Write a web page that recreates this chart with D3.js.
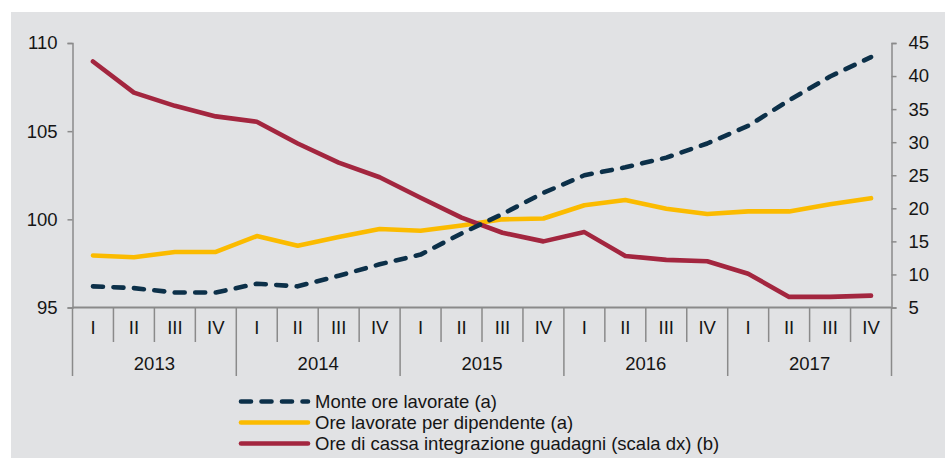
<!DOCTYPE html>
<html>
<head>
<meta charset="utf-8">
<script src="https://cdn.jsdelivr.net/npm/d3@7"></script>
<style>
  body { margin: 0; background: #fff; }
  svg { display: block; font-family: "Liberation Sans", Arial, sans-serif; }
</style>
</head>
<body>
<svg id="chart" width="945" height="458"></svg>
<script>
// data
const years = ["2013", "2014", "2015", "2016", "2017"];
const quarters = ["I", "II", "III", "IV"];
const monteOre = [96.2, 96.1, 95.85, 95.85, 96.35, 96.2, 96.8, 97.45, 98.0, 99.2,
                  100.3, 101.5, 102.5, 102.95, 103.5, 104.3, 105.3, 106.75, 108.1, 109.2];
const orePerDip = [97.95, 97.85, 98.15, 98.15, 99.05, 98.5, 99.0, 99.45, 99.35, 99.65,
                   100.0, 100.05, 100.8, 101.1, 100.6, 100.3, 100.45, 100.45, 100.85, 101.2];
const cig = [42.2, 37.5, 35.5, 33.9, 33.1, 29.8, 26.9, 24.7, 21.6, 18.6,
             16.3, 15.0, 16.4, 12.8, 12.2, 12.0, 10.1, 6.6, 6.6, 6.8];
const leftTicks = [95, 100, 105, 110];
const rightTicks = [5, 10, 15, 20, 25, 30, 35, 40, 45];
const legendLabels = ["Monte ore lavorate (a)", "Ore lavorate per dipendente (a)",
                      "Ore di cassa integrazione guadagni (scala dx) (b)"];

const svg = d3.select("#chart");
const axisColor = "#8a8a8a";
const textColor = "#151515";
const fs = "18.5px";

// gray panel
svg.append("rect").attr("x", 11).attr("y", 12).attr("width", 934).attr("height", 446).attr("fill", "#e1e2e4");

const plotL = 72.5, plotR = 891.5, plotT = 43, plotB = 307.5;
const periods = [];
years.forEach(y => quarters.forEach(q => periods.push(y + "-" + q)));

const x = d3.scaleBand().domain(periods).range([plotL, plotR]);
const yL = d3.scaleLinear().domain([95, 110]).range([plotB, plotT]);
const yR = d3.scaleLinear().domain([5, 45]).range([plotB, plotT]);
const cx = d => x(d) + x.bandwidth() / 2;

// left axis
const gL = svg.append("g").attr("transform", `translate(${plotL},0)`)
  .call(d3.axisLeft(yL).tickValues(leftTicks).tickSize(5).tickPadding(10));
// right axis
const gR = svg.append("g").attr("transform", `translate(${plotR},0)`)
  .call(d3.axisRight(yR).tickValues(rightTicks).tickSize(5).tickPadding(12));
[gL, gR].forEach(g => {
  g.select(".domain").attr("stroke", axisColor).attr("stroke-width", 1.5);
  g.selectAll(".tick line").attr("stroke", axisColor).attr("stroke-width", 1.5);
  g.selectAll(".tick text").attr("fill", textColor).style("font-size", fs);
  g.attr("font-family", null).attr("font-size", null);
});
// extend vertical axes down to the year row
svg.append("line").attr("x1", plotL).attr("x2", plotL).attr("y1", plotB).attr("y2", 376)
  .attr("stroke", axisColor).attr("stroke-width", 1.5);
svg.append("line").attr("x1", plotR).attr("x2", plotR).attr("y1", plotB).attr("y2", 376)
  .attr("stroke", axisColor).attr("stroke-width", 1.5);

// bottom category axis
svg.append("line").attr("x1", plotL).attr("x2", plotR).attr("y1", plotB).attr("y2", plotB)
  .attr("stroke", axisColor).attr("stroke-width", 2);
const xg = svg.append("g");
periods.forEach((p, i) => {
  if (i > 0) {
    const isYear = i % 4 === 0;
    xg.append("line").attr("x1", x(p)).attr("x2", x(p)).attr("y1", plotB)
      .attr("y2", isYear ? 376 : 342).attr("stroke", axisColor).attr("stroke-width", 1.5);
  }
  xg.append("text").attr("x", cx(p)).attr("y", 334).attr("text-anchor", "middle")
    .attr("fill", textColor).style("font-size", fs).text(p.split("-")[1]);
});
years.forEach(y => {
  const x0 = x(y + "-I"), x1 = x(y + "-IV") + x.bandwidth();
  xg.append("text").attr("x", (x0 + x1) / 2).attr("y", 370).attr("text-anchor", "middle")
    .attr("fill", textColor).style("font-size", fs).text(y);
});

// series
const series = [
  {vals: orePerDip, scale: yL, color: "#fbbb00", dash: null},
  {vals: cig, scale: yR, color: "#a3263f", dash: null},
  {vals: monteOre, scale: yL, color: "#0c3049", dash: "10,10.5"}
];
series.forEach(s => {
  const line = d3.line().x((d, i) => cx(periods[i])).y(d => s.scale(d));
  svg.append("path").attr("d", line(s.vals)).attr("fill", "none")
    .attr("stroke", s.color).attr("stroke-width", 4.6)
    .attr("stroke-linecap", "round").attr("stroke-linejoin", "round")
    .attr("stroke-dasharray", s.dash);
});

// legend
const legendStyle = [
  {color: "#0c3049", dash: "10,10.5"},
  {color: "#fbbb00", dash: null},
  {color: "#a3263f", dash: null}
];
const lg = svg.append("g");
legendLabels.forEach((t, i) => {
  const yy = 401.5 + i * 21;
  lg.append("line").attr("x1", 241).attr("x2", 308).attr("y1", yy).attr("y2", yy)
    .attr("stroke", legendStyle[i].color).attr("stroke-width", 4.6)
    .attr("stroke-linecap", "round").attr("stroke-dasharray", legendStyle[i].dash);
  lg.append("text").attr("x", 315).attr("y", yy + 6.5).attr("fill", textColor)
    .style("font-size", fs).text(t);
});
</script>
</body>
</html>
